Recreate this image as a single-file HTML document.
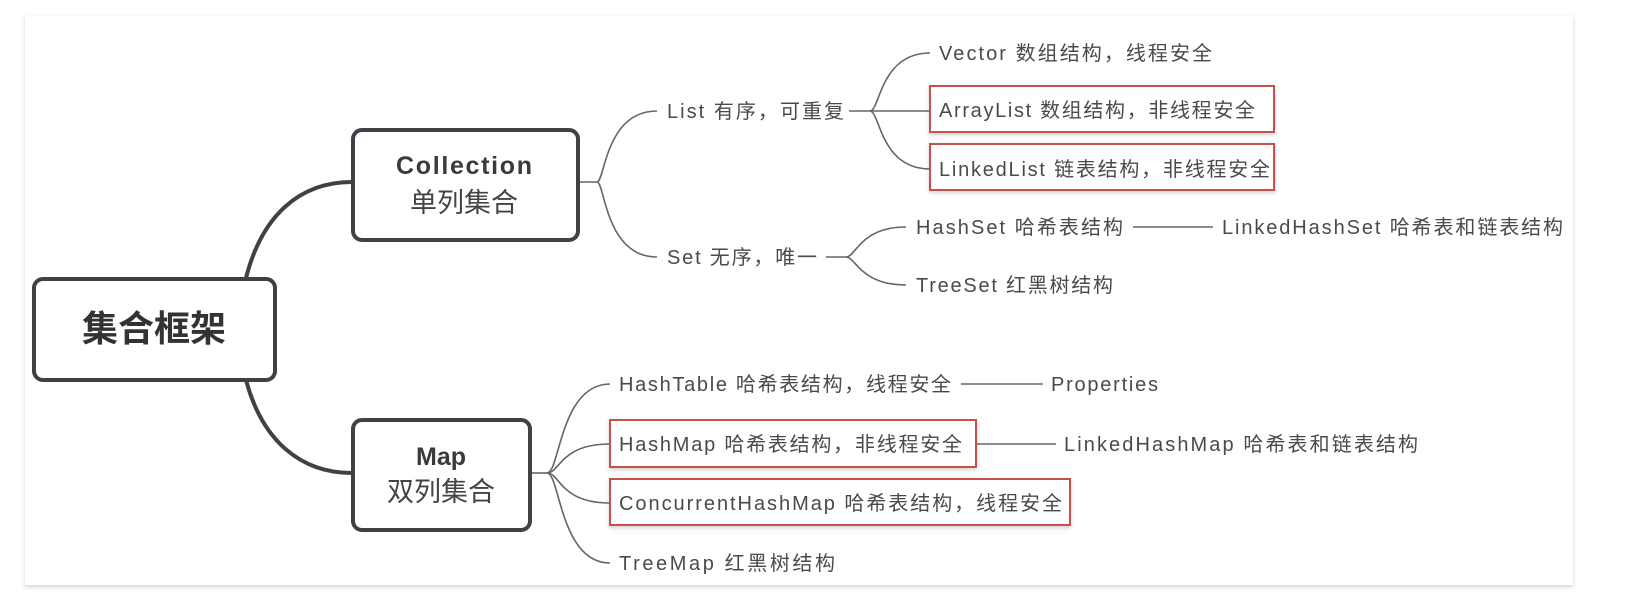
<!DOCTYPE html>
<html><head><meta charset="utf-8"><style>
html,body{margin:0;padding:0;background:#fff;}
svg{display:block;}
text{font-family:"Liberation Sans","Noto Sans CJK SC",sans-serif;fill:#4a4a4a;}
</style></head><body>
<svg width="1629" height="611" viewBox="0 0 1629 611" xmlns="http://www.w3.org/2000/svg">
<defs>
<filter id="sh" x="-5%" y="-5%" width="110%" height="120%"><feDropShadow dx="0" dy="2" stdDeviation="2" flood-color="#000" flood-opacity="0.18"/></filter>
</defs>
<rect x="25" y="16" width="1548" height="569" fill="#fff" filter="url(#sh)"/>
<g fill="none" stroke="#3d4247" stroke-width="4">
<path d="M246 278 C 262 215, 300 182, 352 182"/>
<path d="M246 380 C 262 440, 300 473, 352 473"/>
</g>
<rect x="34" y="279" width="241" height="101" rx="9" fill="#fff" stroke="#3d4247" stroke-width="4"/>
<text x="154" y="341" font-size="36" font-weight="bold" text-anchor="middle" style="fill:#333">集合框架</text>
<rect x="353" y="130" width="225" height="110" rx="9" fill="#fff" stroke="#3d4247" stroke-width="4"/>
<text x="464" y="174" font-size="25" font-weight="600" text-anchor="middle" textLength="136" lengthAdjust="spacing" style="fill:#3a3a3a">Collection</text>
<text x="464" y="212" font-size="27" text-anchor="middle" style="fill:#444">单列集合</text>
<rect x="353" y="420" width="177" height="110" rx="9" fill="#fff" stroke="#3d4247" stroke-width="4"/>
<text x="441" y="465" font-size="25" font-weight="600" text-anchor="middle" style="fill:#3a3a3a">Map</text>
<text x="441" y="501" font-size="27" text-anchor="middle" style="fill:#444">双列集合</text>
<g fill="none" stroke="#666" stroke-width="1.6">
<path d="M580 182 H597 C605 182, 605 111, 657 111"/>
<path d="M597 182 C605 182, 605 257, 657 257"/>
<path d="M849 111 H930"/>
<path d="M870 111 C880 111, 880 53, 930 53"/>
<path d="M870 111 C880 111, 880 169, 930 169"/>
<path d="M826 257 H846"/>
<path d="M846 257 C856 257, 860 227, 906 227"/>
<path d="M846 257 C856 257, 860 285, 906 285"/>
<path d="M1133 227 H1213"/>
<path d="M532 473 H547"/>
<path d="M547 473 C560 473, 560 384, 610 384"/>
<path d="M547 473 C560 473, 560 444, 610 444"/>
<path d="M547 473 C560 473, 560 503, 610 503"/>
<path d="M547 473 C560 473, 560 563, 610 563"/>
<path d="M961 384 H1043"/>
<path d="M976 444 H1056"/>
</g>
<g fill="#fff" stroke="#c9504c" stroke-width="2" filter="url(#sh)">
<rect x="930" y="86" width="344" height="46"/>
<rect x="930" y="144" width="344" height="46"/>
<rect x="610" y="420" width="366" height="47"/>
<rect x="610" y="479" width="460" height="46"/>
</g>
<g font-size="20">
<text x="667" y="118" textLength="177" lengthAdjust="spacing">List  有序，可重复</text>
<text x="667" y="264" textLength="150" lengthAdjust="spacing">Set  无序，唯一</text>
<text x="939" y="60" textLength="273" lengthAdjust="spacing">Vector  数组结构，线程安全</text>
<text x="939" y="117" textLength="316" lengthAdjust="spacing">ArrayList  数组结构，非线程安全</text>
<text x="939" y="176" textLength="331" lengthAdjust="spacing">LinkedList  链表结构，非线程安全</text>
<text x="916" y="234" textLength="207" lengthAdjust="spacing">HashSet  哈希表结构</text>
<text x="1222" y="234" textLength="341" lengthAdjust="spacing">LinkedHashSet  哈希表和链表结构</text>
<text x="916" y="292" textLength="197" lengthAdjust="spacing">TreeSet  红黑树结构</text>
<text x="619" y="391" textLength="332" lengthAdjust="spacing">HashTable  哈希表结构，线程安全</text>
<text x="1051" y="391" textLength="107" lengthAdjust="spacing">Properties</text>
<text x="619" y="451" textLength="343" lengthAdjust="spacing">HashMap  哈希表结构，非线程安全</text>
<text x="1064" y="451" textLength="354" lengthAdjust="spacing">LinkedHashMap  哈希表和链表结构</text>
<text x="619" y="510" textLength="443" lengthAdjust="spacing">ConcurrentHashMap  哈希表结构，线程安全</text>
<text x="619" y="570" textLength="216" lengthAdjust="spacing">TreeMap   红黑树结构</text>
</g>
</svg>
</body></html>
